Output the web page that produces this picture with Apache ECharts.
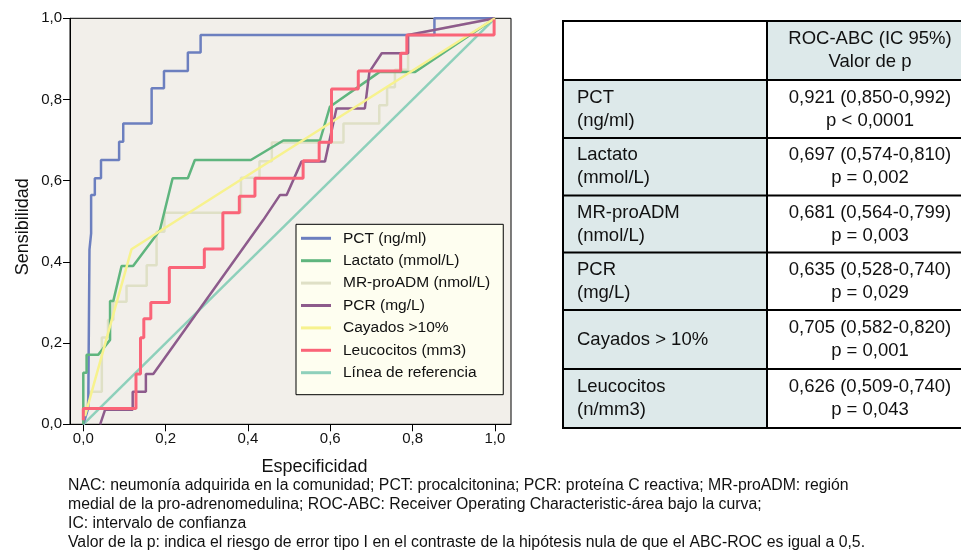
<!DOCTYPE html>
<html><head><meta charset="utf-8">
<script src="https://cdn.jsdelivr.net/npm/echarts@6/dist/echarts.min.js"></script>
<style>html,body{margin:0;padding:0;background:#fff}#c{width:961px;height:551px}</style>
</head><body><div id="c"></div>
<script>
// ---- data ----
const seriesNames = ['PCT (ng/ml)','Lactato (mmol/L)','MR-proADM (nmol/L)','PCR (mg/L)','Cayados >10%','Leucocitos (mm3)','Línea de referencia'];
const pct = [[0,0],[0.012,0.04],[0.015,0.43],[0.019,0.47],[0.019,0.565],[0.028,0.565],[0.028,0.606],[0.043,0.606],[0.043,0.651],[0.087,0.651],[0.087,0.696],[0.097,0.696],[0.097,0.741],[0.166,0.741],[0.166,0.828],[0.196,0.828],[0.196,0.870],[0.254,0.870],[0.254,0.916],[0.285,0.916],[0.285,0.959],[0.853,0.959],[0.853,1.0],[1.0,1.0]];
const lactato = [[0,0],[0,0.127],[0.008,0.127],[0.008,0.171],[0.036,0.171],[0.065,0.208],[0.065,0.304],[0.073,0.304],[0.093,0.39],[0.121,0.39],[0.186,0.478],[0.217,0.606],[0.254,0.606],[0.271,0.651],[0.407,0.651],[0.486,0.699],[0.575,0.699],[0.599,0.782],[0.72,0.868],[0.806,0.868],[1.0,1.0]];
const mrproadm = [[0,0],[0.015,0.08],[0.045,0.08],[0.045,0.214],[0.06,0.214],[0.06,0.257],[0.073,0.257],[0.073,0.302],[0.105,0.302],[0.105,0.341],[0.154,0.341],[0.154,0.392],[0.178,0.392],[0.178,0.474],[0.197,0.474],[0.197,0.521],[0.383,0.521],[0.383,0.607],[0.428,0.607],[0.428,0.648],[0.458,0.648],[0.458,0.694],[0.632,0.694],[0.632,0.741],[0.719,0.741],[0.719,0.786],[0.738,0.786],[0.738,0.830],[0.757,0.830],[0.757,0.873],[0.789,0.873],[0.789,0.959],[1.0,1.0]];
const pcr = [[0.041,0],[0.053,0.036],[0.12,0.036],[0.12,0.08],[0.152,0.08],[0.152,0.124],[0.17,0.124],[0.437,0.503],[0.478,0.565],[0.494,0.565],[0.530,0.647],[0.587,0.647],[0.615,0.778],[0.684,0.778],[0.695,0.868],[0.725,0.914],[0.789,0.914],[0.789,0.959],[1.0,1.0]];
const cayados = [[0.004,0.02],[0.117,0.431],[1.0,1.0]];
const leucocitos = [[0,0.01],[0,0.039],[0.128,0.039],[0.128,0.124],[0.139,0.124],[0.139,0.213],[0.147,0.213],[0.147,0.26],[0.164,0.26],[0.164,0.30],[0.209,0.30],[0.209,0.386],[0.294,0.386],[0.294,0.432],[0.339,0.432],[0.339,0.521],[0.379,0.521],[0.379,0.562],[0.417,0.562],[0.417,0.606],[0.534,0.606],[0.534,0.649],[0.573,0.649],[0.573,0.695],[0.603,0.695],[0.603,0.826],[0.668,0.826],[0.668,0.870],[0.771,0.870],[0.771,0.914],[0.786,0.914],[0.786,0.959],[0.998,0.959],[0.998,0.997]];
const referencia = [[0,0],[1,1]];
const xTicks = [0,0.2,0.4,0.6,0.8,1.0];

const tableHeader = ['ROC-ABC (IC 95%)','Valor de p'];
const tableLabels = [['PCT','(ng/ml)'],['Lactato','(mmol/L)'],['MR-proADM','(nmol/L)'],['PCR','(mg/L)'],['Cayados > 10%'],['Leucocitos','(n/mm3)']];
const tableAuc = ['0,921 (0,850-0,992)','0,697 (0,574-0,810)','0,681 (0,564-0,799)','0,635 (0,528-0,740)','0,705 (0,582-0,820)','0,626 (0,509-0,740)'];
const tableP = ['p < 0,0001','p = 0,002','p = 0,003','p = 0,029','p = 0,001','p = 0,043'];
const footnote = [
 'NAC: neumonía adquirida en la comunidad; PCT: procalcitonina; PCR: proteína C reactiva; MR-proADM: región',
 'medial de la pro-adrenomedulina; ROC-ABC: Receiver Operating Characteristic-área bajo la curva;',
 'IC: intervalo de confianza',
 'Valor de la p: indica el riesgo de error tipo I en el contraste de la hipótesis nula de que el ABC-ROC es igual a 0,5.'
];

// ---- styles ----
const FONT = 'Liberation Sans, Arial, Helvetica, sans-serif';
const colors = ['#6c7fbf','#5fb57e','#dfe0c6','#8d5b8c','#f7f28e','#fa6478','#8ed0bb'];
const widths = [2.5,2.5,2.5,2.5,2.5,3,2.5];
const zs = [3,3,2,3,4,5,1];
const datasets = [pct,lactato,mrproadm,pcr,cayados,leucocitos,referencia];
const fmt = v => (Math.round(v*10)/10).toFixed(1).replace('.', ',');

// ---- table graphic ----
const tX0 = 563, tX1 = 767, tX2 = 975;
const rowY = [21, 80, 138, 195.5, 252.5, 310, 369, 428];
const lightBlue = '#dde9ea';
const TF = '18.5px ' + FONT;
const cxR = 870, dy = 11.5;
const g = [];
g.push({type:'rect', shape:{x:tX0,y:rowY[0],width:tX1-tX0,height:rowY[1]-rowY[0]}, style:{fill:'#fff'}});
g.push({type:'rect', shape:{x:tX1,y:rowY[0],width:tX2-tX1,height:rowY[1]-rowY[0]}, style:{fill:lightBlue}});
g.push({type:'text', x:cxR, y:(rowY[0]+rowY[1])/2-dy, style:{text:tableHeader[0], font:TF, fill:'#111', align:'center', verticalAlign:'middle'}});
g.push({type:'text', x:cxR, y:(rowY[0]+rowY[1])/2+dy, style:{text:tableHeader[1], font:TF, fill:'#111', align:'center', verticalAlign:'middle'}});
for (let i=0;i<tableLabels.length;i++){
  const y0 = rowY[i+1], y1 = rowY[i+2], cy = (y0+y1)/2;
  g.push({type:'rect', shape:{x:tX0,y:y0,width:tX1-tX0,height:y1-y0}, style:{fill:lightBlue}});
  g.push({type:'rect', shape:{x:tX1,y:y0,width:tX2-tX1,height:y1-y0}, style:{fill:'#fff'}});
  const lab = tableLabels[i];
  if (lab.length === 2){
    g.push({type:'text', x:577, y:cy-dy, style:{text:lab[0], font:TF, fill:'#111', align:'left', verticalAlign:'middle'}});
    g.push({type:'text', x:577, y:cy+dy, style:{text:lab[1], font:TF, fill:'#111', align:'left', verticalAlign:'middle'}});
  } else {
    g.push({type:'text', x:577, y:cy, style:{text:lab[0], font:TF, fill:'#111', align:'left', verticalAlign:'middle'}});
  }
  g.push({type:'text', x:cxR, y:cy-dy, style:{text:tableAuc[i], font:TF, fill:'#111', align:'center', verticalAlign:'middle'}});
  g.push({type:'text', x:cxR, y:cy+dy, style:{text:tableP[i], font:TF, fill:'#111', align:'center', verticalAlign:'middle'}});
}
g.push({type:'rect', shape:{x:tX0,y:rowY[0],width:tX2-tX0,height:rowY[7]-rowY[0]}, style:{fill:null, stroke:'#000', lineWidth:2}});
g.push({type:'line', shape:{x1:tX1,y1:rowY[0],x2:tX1,y2:rowY[7]}, style:{stroke:'#000', lineWidth:2}});
for (let i=1;i<7;i++) g.push({type:'line', shape:{x1:tX0,y1:rowY[i],x2:tX2,y2:rowY[i]}, style:{stroke:'#000', lineWidth:2}});
const fy = [486, 505, 524, 543];
footnote.forEach((t,i)=>g.push({type:'text', x:68, y:fy[i], style:{text:t, font:'15.8px '+FONT, fill:'#111', align:'left', verticalAlign:'middle'}}));

const chart = echarts.init(document.getElementById('c'), null, {renderer:'canvas'});
chart.setOption({
  animation:false,
  backgroundColor:'#fff',
  textStyle:{fontFamily:FONT},
  grid:{left:70, top:18.3, right:450, bottom:126.7, show:true, backgroundColor:'#f2efea', borderColor:'#000', borderWidth:1},
  xAxis:{type:'value', min:-0.0323, max:1.039,
    name:'Especificidad', nameLocation:'middle', nameGap:34,
    nameTextStyle:{fontSize:18, color:'#111', padding:[0,0,0,48]},
    axisLine:{show:true, onZero:false, lineStyle:{color:'#000', width:1}},
    axisTick:{show:true, inside:false, length:7, lineStyle:{color:'#000'}, customValues:xTicks},
    axisLabel:{color:'#111', fontSize:15, margin:7, formatter:fmt, customValues:xTicks},
    splitLine:{show:false}},
  yAxis:{type:'value', min:0, max:1, interval:0.2,
    name:'Sensibilidad', nameLocation:'middle', nameGap:38,
    nameTextStyle:{fontSize:18, color:'#111', padding:[0,11,0,0]},
    axisLine:{show:true, onZero:false, lineStyle:{color:'#000', width:1}},
    axisTick:{show:true, inside:false, length:7, lineStyle:{color:'#000'}},
    axisLabel:{color:'#111', fontSize:15, margin:8, formatter:fmt},
    splitLine:{show:false}},
  legend:{orient:'vertical', left:296, top:224.3, selectedMode:false,
    icon:'rect', itemWidth:30, itemHeight:3, itemGap:6.4,
    padding:[6,13,14,5], backgroundColor:'#fefef0', borderColor:'#000', borderWidth:1,
    textStyle:{fontSize:15.5, lineHeight:16, color:'#111', padding:[0,0,0,7]},
    data:seriesNames},
  series: seriesNames.map((n,i)=>({
    name:n, type:'line', data:datasets[i], showSymbol:false, symbol:'none', z:zs[i],
    color:colors[i], lineStyle:{color:colors[i], width:widths[i]}, itemStyle:{color:colors[i]},
    silent:true
  })),
  graphic: g
});
</script></body></html>
